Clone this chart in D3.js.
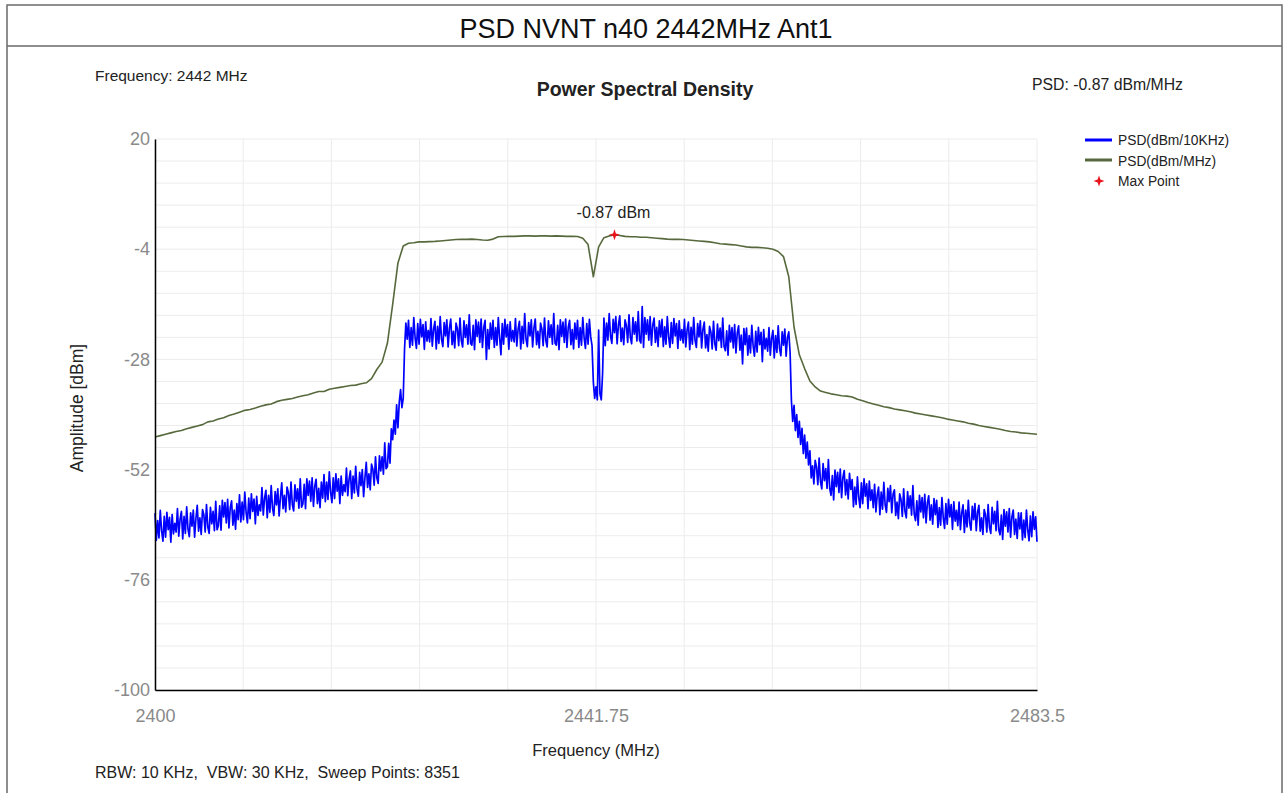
<!DOCTYPE html>
<html><head><meta charset="utf-8">
<script src="https://cdn.jsdelivr.net/npm/d3@7"></script>
<style>
html,body{margin:0;padding:0;background:#fff;}
svg{display:block;font-family:"Liberation Sans",Arial,sans-serif;}
text{white-space:pre;}
</style></head>
<body><svg id="c" width="1287" height="793"></svg>
<script>
// ---- data ----
const title = "PSD NVNT n40 2442MHz Ant1";
const chartTitle = "Power Spectral Density";
const xTicks = [2400, 2441.75, 2483.5];
const xTickLabels = ["2400", "2441.75", "2483.5"];
const yTicks = [20, -4, -28, -52, -76, -100];
const yTickLabels = ["20", "-4", "-28", "-52", "-76", "-100"];
const seriesNames = ["PSD(dBm/10KHz)", "PSD(dBm/MHz)", "Max Point"];

// PSD (dBm/10KHz), sampled every 0.125 MHz from 2400 MHz (16 values per row = 2 MHz)
const blueStart = 2400, blueStep = 0.125;
const blueValues = [
-61.5,-67.4,-63.1,-66.9,-60.9,-65.3,-67.6,-62.2,-66.7,-61.3,-65.1,-62.4,-67.8,-61.8,-66.0,-63.7,
-65.6,-60.5,-66.5,-62.8,-61.1,-67.1,-62.2,-65.9,-60.1,-65.0,-66.6,-61.4,-64.3,-60.8,-66.7,-62.6,
-59.8,-65.4,-62.5,-66.1,-60.7,-61.9,-65.6,-59.6,-64.5,-65.9,-60.2,-63.8,-61.1,-65.3,-58.9,-65.1,
-64.2,-59.9,-65.2,-58.7,-62.3,-59.2,-63.6,-58.5,-64.7,-60.3,-58.8,-64.1,-60.8,-65.0,-59.4,-62.9,
-57.5,-63.4,-59.1,-62.9,-56.9,-61.3,-63.6,-58.2,-62.7,-57.3,-61.1,-58.4,-63.8,-57.8,-62.0,-59.7,
-61.0,-55.9,-61.9,-58.2,-56.5,-62.5,-57.6,-61.3,-55.5,-60.4,-62.0,-56.8,-59.7,-56.2,-62.1,-58.0,
-54.9,-60.5,-57.6,-61.2,-55.8,-57.0,-60.7,-54.7,-59.6,-61.0,-55.3,-58.9,-56.2,-60.4,-54.0,-60.2,
-59.5,-55.2,-60.5,-54.0,-57.6,-54.5,-58.9,-53.8,-60.0,-55.6,-54.1,-59.4,-56.1,-60.3,-54.7,-58.2,
-53.1,-59.0,-54.7,-58.5,-52.5,-56.9,-59.2,-53.8,-58.3,-52.9,-56.7,-54.0,-59.4,-53.4,-57.6,-55.3,
-56.8,-51.7,-57.7,-54.0,-52.3,-58.3,-53.4,-57.1,-51.3,-56.2,-57.8,-52.6,-55.5,-52.0,-57.9,-53.8,
-50.4,-55.9,-52.9,-56.4,-50.8,-51.9,-55.4,-49.2,-53.8,-55.0,-49.0,-52.3,-49.2,-53.0,-46.2,-51.8,
-51.4,-46.3,-50.6,-43.1,-45.5,-41.2,-44.3,-37.9,-42.9,-37.3,-34.6,-38.5,-36.5,-25.7,-20.1,-23.6,
-19.5,-25.4,-21.1,-24.9,-18.9,-23.3,-25.6,-20.2,-24.7,-19.3,-23.1,-20.4,-25.8,-19.8,-24.0,-21.7,
-24.2,-19.1,-25.1,-21.4,-19.7,-25.7,-20.8,-24.5,-18.7,-23.6,-25.2,-20.0,-22.9,-19.4,-25.3,-21.2,
-19.2,-24.8,-21.9,-25.5,-20.1,-21.3,-25.0,-19.0,-23.9,-25.3,-19.6,-23.2,-20.5,-24.7,-18.3,-24.5,
-24.9,-20.6,-25.9,-19.4,-23.0,-19.9,-24.3,-19.2,-25.4,-21.0,-19.5,-28.0,-21.5,-25.7,-20.1,-23.6,
-19.5,-25.4,-21.1,-24.9,-18.9,-23.3,-27.0,-20.2,-24.7,-19.3,-23.1,-20.4,-25.8,-19.8,-24.0,-21.7,
-24.2,-19.1,-25.1,-21.4,-19.7,-25.7,-20.8,-24.5,-18.0,-23.6,-25.2,-20.0,-22.9,-19.4,-25.3,-21.2,
-19.2,-24.8,-21.9,-25.5,-20.1,-21.3,-25.0,-19.0,-23.9,-25.3,-19.6,-23.2,-20.5,-24.7,-18.0,-24.5,
-24.9,-20.6,-25.9,-19.4,-23.0,-19.9,-24.3,-19.2,-25.4,-21.0,-19.5,-24.8,-21.5,-25.7,-20.1,-23.6,
-19.5,-25.4,-21.1,-24.9,-18.9,-23.3,-25.6,-20.2,-24.7,-19.3,-23.1,-25.0,-33.0,-36.5,-34.0,-36.8,
-21.6,-35.5,-36.8,-31.0,-19.0,-25.0,-20.1,-23.8,-18.0,-22.9,-24.5,-19.3,-22.2,-18.7,-24.6,-20.5,
-18.5,-24.1,-21.2,-24.8,-19.4,-20.6,-24.3,-18.3,-23.2,-24.6,-18.9,-22.5,-19.8,-24.0,-17.6,-23.8,
-24.4,-16.5,-25.4,-18.9,-22.5,-19.4,-23.8,-18.7,-24.9,-20.5,-19.0,-24.3,-21.0,-25.2,-19.6,-23.1,
-19.3,-25.2,-20.9,-24.7,-18.7,-23.1,-25.4,-20.0,-24.5,-19.1,-22.9,-20.2,-25.6,-19.6,-23.8,-21.5,
-24.4,-19.3,-25.3,-21.6,-19.9,-25.9,-21.0,-24.7,-18.9,-23.8,-25.4,-20.2,-23.1,-19.6,-25.5,-21.4,
-19.9,-25.5,-22.6,-26.2,-20.8,-22.0,-25.7,-19.7,-24.6,-26.0,-20.3,-23.9,-21.2,-25.4,-19.0,-25.2,
-26.1,-21.8,-27.1,-20.6,-24.2,-21.1,-25.5,-20.4,-26.6,-22.2,-20.7,-26.0,-22.7,-29.0,-21.3,-24.8,
-21.2,-27.1,-22.8,-26.6,-20.6,-25.0,-27.3,-21.9,-26.4,-21.0,-24.8,-22.1,-28.5,-21.5,-25.7,-23.4,
-26.2,-21.1,-27.1,-23.4,-21.7,-27.7,-22.8,-26.5,-20.7,-25.6,-27.2,-22.0,-24.9,-21.4,-27.3,-23.2,
-22.0,-26.5,-37.0,-41.5,-38.0,-43.5,-40.0,-45.0,-41.5,-46.5,-43.0,-48.5,-44.5,-49.5,-46.0,-51.0,
-47.9,-53.8,-51.2,-55.1,-50.0,-51.4,-55.3,-49.5,-54.6,-56.2,-50.7,-54.4,-51.8,-56.1,-49.8,-56.1,
-57.6,-53.3,-58.6,-52.1,-55.7,-52.6,-57.0,-51.9,-58.1,-53.7,-52.2,-57.5,-54.2,-58.4,-52.8,-56.3,
-54.2,-60.1,-55.8,-59.6,-53.6,-58.0,-60.3,-54.9,-59.4,-54.0,-57.8,-55.1,-60.5,-54.5,-58.7,-56.4,
-60.3,-55.2,-61.2,-57.5,-55.8,-61.8,-56.9,-60.6,-54.8,-59.7,-61.3,-56.1,-59.0,-55.5,-61.4,-57.3,
-56.4,-62.0,-59.1,-62.7,-57.3,-58.5,-62.2,-56.2,-61.1,-62.5,-56.8,-60.4,-57.7,-61.9,-55.5,-61.7,
-63.1,-58.8,-64.1,-57.6,-61.2,-58.1,-62.5,-57.4,-63.6,-59.2,-57.7,-63.0,-59.7,-63.9,-58.3,-61.8,
-58.7,-64.6,-60.3,-64.1,-58.1,-62.5,-64.8,-59.4,-63.9,-58.5,-62.3,-59.6,-65.0,-59.0,-63.2,-60.9,
-64.2,-59.1,-65.1,-61.4,-59.7,-65.7,-60.8,-64.5,-58.7,-63.6,-65.2,-60.0,-62.9,-59.4,-65.3,-61.2,
-59.8,-65.4,-62.5,-66.1,-60.7,-61.9,-65.6,-59.6,-64.5,-65.9,-60.2,-63.8,-61.1,-65.3,-58.9,-65.1,
-66.2,-61.9,-67.2,-60.7,-64.3,-61.2,-65.6,-60.5,-66.7,-62.3,-60.8,-66.1,-62.8,-67.0,-61.4,-64.9,
-61.4,-67.3,-63.0,-66.8,-60.8,-65.2,-67.5,-62.1,-66.6,-61.2,-65.0,-62.3,-67.7
];

// PSD (dBm/MHz), sampled every 0.5 MHz from 2400 MHz
const greenStart = 2400, greenStep = 0.5;
const greenValues = [
-44.9,-44.6,-44.3,-44.0,-43.7,-43.5,-43.1,-42.8,-42.5,-42.2,
-41.6,-41.4,-41.0,-40.7,-40.2,-39.9,-39.5,-39.1,-38.9,-38.6,
-38.2,-37.9,-37.7,-37.2,-36.9,-36.7,-36.5,-36.2,-35.9,-35.7,
-35.3,-35.0,-35.0,-34.5,-34.3,-34.1,-33.9,-33.7,-33.6,-33.3,
-33.1,-32.2,-30.2,-28.6,-24.5,-16.0,-7.0,-3.3,-2.7,-2.6,
-2.4,-2.4,-2.35,-2.3,-2.2,-2.1,-2.0,-1.9,-1.85,-1.85,
-1.8,-1.9,-2.0,-2.05,-1.8,-1.3,-1.25,-1.2,-1.2,-1.15,
-1.1,-1.1,-1.15,-1.1,-1.1,-1.15,-1.1,-1.15,-1.2,-1.2,
-1.25,-1.6,-3.0,-10.0,-3.5,-1.5,-1.1,-0.87,-1.0,-1.2,
-1.3,-1.3,-1.4,-1.4,-1.5,-1.6,-1.7,-1.8,-1.85,-1.85,
-1.9,-2.0,-2.1,-2.2,-2.3,-2.4,-2.6,-2.8,-2.9,-3.0,
-3.1,-3.3,-3.5,-3.6,-3.6,-3.7,-3.8,-4.0,-4.5,-5.6,
-10.0,-21.0,-27.0,-30.0,-32.7,-34.0,-34.9,-35.2,-35.5,-35.7,
-35.9,-36.0,-36.2,-36.7,-37.0,-37.4,-37.7,-38.0,-38.3,-38.5,
-38.8,-39.0,-39.2,-39.4,-39.7,-39.9,-40.1,-40.3,-40.5,-40.7,
-41.0,-41.2,-41.4,-41.6,-41.9,-42.1,-42.4,-42.6,-42.8,-43.0,
-43.2,-43.5,-43.7,-43.8,-44.0,-44.1,-44.2,-44.3
];

const centerFreq = "2442 MHz";
const psdValue = "-0.87 dBm/MHz";
const footer = "RBW: 10 KHz,  VBW: 30 KHz,  Sweep Points: 8351";

// ---- build ----
const blue = blueValues.map((v,i)=>({f: blueStart + i*blueStep, v}));
const green = greenValues.map((v,i)=>({f: greenStart + i*greenStep, v}));
const maxPt = green.reduce((a,b)=> b.v > a.v ? b : a);

const svg = d3.select("#c");
const x = d3.scaleLinear().domain([2400, 2483.5]).range([155, 1037]);
const y = d3.scaleLinear().domain([-100, 20]).range([690, 139]);

// frame
svg.append("rect").attr("x",7).attr("y",5).attr("width",1275).attr("height",820)
  .attr("fill","none").attr("stroke","#6a6a6a").attr("stroke-width",1.5);
svg.append("line").attr("x1",7).attr("x2",1282).attr("y1",46).attr("y2",46)
  .attr("stroke","#6a6a6a").attr("stroke-width",1.5);
svg.append("text").attr("x",646).attr("y",38).attr("text-anchor","middle")
  .attr("font-size",27).attr("fill","#111").text(title);

// header texts
svg.append("text").attr("x",95).attr("y",81).attr("font-size",15.5).attr("fill","#222").text("Frequency: " + centerFreq);
svg.append("text").attr("x",645).attr("y",96).attr("text-anchor","middle").attr("font-size",19.5)
  .attr("font-weight","bold").attr("fill","#222").text(chartTitle);
svg.append("text").attr("x",1032).attr("y",90).attr("font-size",15.8).attr("fill","#222").text("PSD: " + psdValue);

// grid
const g = svg.append("g");
g.selectAll("line.hg").data(d3.range(0, 26)).join("line")
  .attr("x1", x(2400)).attr("x2", x(2483.5))
  .attr("y1", d=>y(-100 + d*4.8)).attr("y2", d=>y(-100 + d*4.8))
  .attr("stroke","#ececec").attr("stroke-width",1);
g.selectAll("line.vg").data(d3.range(0, 11)).join("line")
  .attr("x1", d=>x(2400 + d*8.35)).attr("x2", d=>x(2400 + d*8.35))
  .attr("y1", y(20)).attr("y2", y(-100))
  .attr("stroke","#ececec").attr("stroke-width",1);

// series
const line = d3.line().x(d=>x(d.f)).y(d=>y(d.v));
svg.append("path").datum(green).attr("d", line).attr("fill","none")
  .attr("stroke","#57693c").attr("stroke-width",1.6).attr("stroke-linejoin","round");
svg.append("path").datum(blue).attr("d", line).attr("fill","none")
  .attr("stroke","#0000ff").attr("stroke-width",1.7).attr("stroke-linejoin","round");

// axes
const yAxis = d3.axisLeft(y).tickValues(yTicks).tickSize(0).tickPadding(5)
  .tickFormat((d,i)=>yTickLabels[i]);
const ya = svg.append("g").attr("transform",`translate(${x(2400)},0)`).call(yAxis);
ya.select(".domain").attr("stroke","#000").attr("stroke-width",1.5);
ya.selectAll("text").attr("font-size",18).attr("fill","#8a8a8a").attr("font-family","Liberation Sans, Arial, sans-serif");

const xAxis = d3.axisBottom(x).tickValues(xTicks).tickSize(0).tickPadding(19)
  .tickFormat((d,i)=>xTickLabels[i]);
const xa = svg.append("g").attr("transform",`translate(0,${y(-100)})`).call(xAxis);
xa.select(".domain").attr("stroke","#000").attr("stroke-width",1.5);
xa.selectAll("text").attr("font-size",18).attr("fill","#8a8a8a").attr("font-family","Liberation Sans, Arial, sans-serif");

svg.append("text").attr("transform","translate(83,408) rotate(-90)").attr("text-anchor","middle")
  .attr("font-size",17.5).attr("fill","#222").text("Amplitude [dBm]");
svg.append("text").attr("x",596).attr("y",756).attr("text-anchor","middle")
  .attr("font-size",16.5).attr("fill","#222").text("Frequency (MHz)");
svg.append("text").attr("x",95).attr("y",778).attr("font-size",16).attr("fill","#222").text(footer);

// max marker
const star = "M0,-5.5 L1.4,-1.4 L5.5,0 L1.4,1.4 L0,5.5 L-1.4,1.4 L-5.5,0 L-1.4,-1.4 Z";
svg.append("path").attr("d", star).attr("fill","#e8141b")
  .attr("transform",`translate(${x(maxPt.f)},${y(maxPt.v)})`);
svg.append("text").attr("x", x(maxPt.f) - 1).attr("y", y(maxPt.v) - 17).attr("text-anchor","middle")
  .attr("font-size",16).attr("fill","#222").text(maxPt.v.toFixed(2) + " dBm");

// legend
const lg = svg.append("g");
lg.append("line").attr("x1",1085).attr("x2",1112).attr("y1",140).attr("y2",140).attr("stroke","#0000ff").attr("stroke-width",3);
lg.append("line").attr("x1",1085).attr("x2",1112).attr("y1",160).attr("y2",160).attr("stroke","#57693c").attr("stroke-width",3);
lg.append("path").attr("d",star).attr("fill","#e8141b").attr("transform","translate(1099,181)");
seriesNames.forEach((s,i)=>{
  lg.append("text").attr("x",1118).attr("y",145 + i*20.5).attr("font-size",13.8).attr("fill","#222").text(s);
});
</script></body></html>
